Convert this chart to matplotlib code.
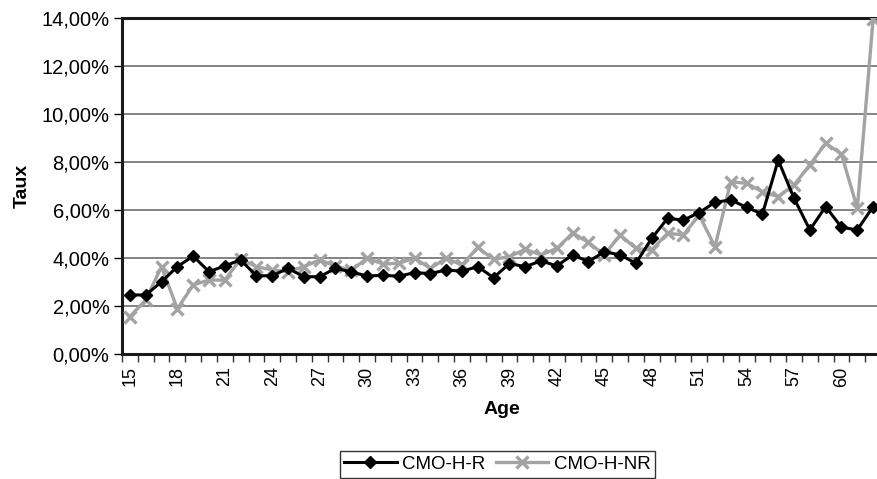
import numpy as np
import matplotlib
matplotlib.use("Agg")
import matplotlib.pyplot as plt
from matplotlib.ticker import FuncFormatter, MultipleLocator, FixedLocator

plt.rcParams["font.family"] = ["Liberation Sans", "DejaVu Sans"]

ages = list(range(15, 63))

# taux par age (en %)
cmo_h_r = [2.46, 2.46, 3.01, 3.64, 4.08, 3.43, 3.67, 3.92, 3.26, 3.26,
           3.57, 3.22, 3.22, 3.57, 3.42, 3.25, 3.28, 3.24, 3.39, 3.35,
           3.50, 3.45, 3.64, 3.18, 3.77, 3.64, 3.88, 3.67, 4.13, 3.85,
           4.26, 4.13, 3.78, 4.82, 5.65, 5.58, 5.89, 6.32, 6.42, 6.11,
           5.83, 8.08, 6.49, 5.17, 6.14, 5.28, 5.17, 6.14]
cmo_h_nr = [1.56, 2.25, 3.64, 1.88, 2.88, 3.08, 3.08, 3.96, 3.64, 3.50,
            3.43, 3.64, 3.92, 3.67, 3.48, 3.99, 3.75, 3.78, 3.99, 3.57,
            3.99, 3.71, 4.44, 3.94, 4.06, 4.36, 4.13, 4.40, 5.04, 4.65,
            4.13, 4.96, 4.40, 4.33, 5.03, 4.96, 5.79, 4.47, 7.18, 7.11,
            6.76, 6.56, 7.04, 7.88, 8.78, 8.33, 6.07, 13.95]

fig = plt.figure(figsize=(8.77, 4.79), dpi=100)
ax = fig.add_axes([122 / 877, 1 - 354 / 479, 759 / 877, 336 / 479])

ax.plot(ages, np.array(cmo_h_r) / 100, color="black", lw=2.2,
        marker="D", ms=6, label="CMO-H-R", zorder=4)
ax.plot(ages, np.array(cmo_h_nr) / 100, color="#a3a3a3", lw=2.4,
        marker="x", ms=9, mew=2.4, label="CMO-H-NR", zorder=3)

ax.set_xlim(14.5, 62.5)
ax.set_ylim(0, 0.14)

ax.yaxis.set_major_locator(MultipleLocator(0.02))
ax.yaxis.set_major_formatter(FuncFormatter(lambda v, p: f"{v * 100:.2f}%".replace(".", ",")))
ax.grid(axis="y", color="#6e6e6e", lw=1.2)
ax.set_axisbelow(True)

# labels every 3 years, tick marks between categories
ax.xaxis.set_major_locator(FixedLocator(list(range(15, 63, 3))))
ax.xaxis.set_minor_locator(FixedLocator(np.arange(14.5, 63, 1)))
ax.tick_params(axis="x", which="major", length=0, labelrotation=90, labelsize=13, pad=9)
ax.tick_params(axis="x", which="minor", length=6, width=1, color="#333333")
ax.tick_params(axis="y", length=6, width=1, labelsize=14.5, pad=3)

for side in ["left", "bottom", "top"]:
    ax.spines[side].set_linewidth(2.2)
    ax.spines[side].set_color("#1a1a1a")
ax.spines["right"].set_visible(False)

ax.set_xlabel("Age", fontsize=14, fontweight="bold")
ax.set_ylabel("Taux", fontsize=14, fontweight="bold")
ax.xaxis.set_label_coords(0.5, -(401 - 354) / 336)
ax.yaxis.set_label_coords(-(122 - 22) / 759, 0.5)
ax.xaxis.label.set_va("top")
ax.yaxis.label.set_va("center")

fig.legend(loc="upper center", bbox_to_anchor=(497.5 / 877, 1 - 451 / 479), ncol=2,
           frameon=True, fancybox=False, edgecolor="black", fontsize=13.5,
           handlelength=2.8, columnspacing=0.55, handletextpad=0.3,
           borderpad=0.25, borderaxespad=0)

fig.savefig("out.png", dpi=100)
